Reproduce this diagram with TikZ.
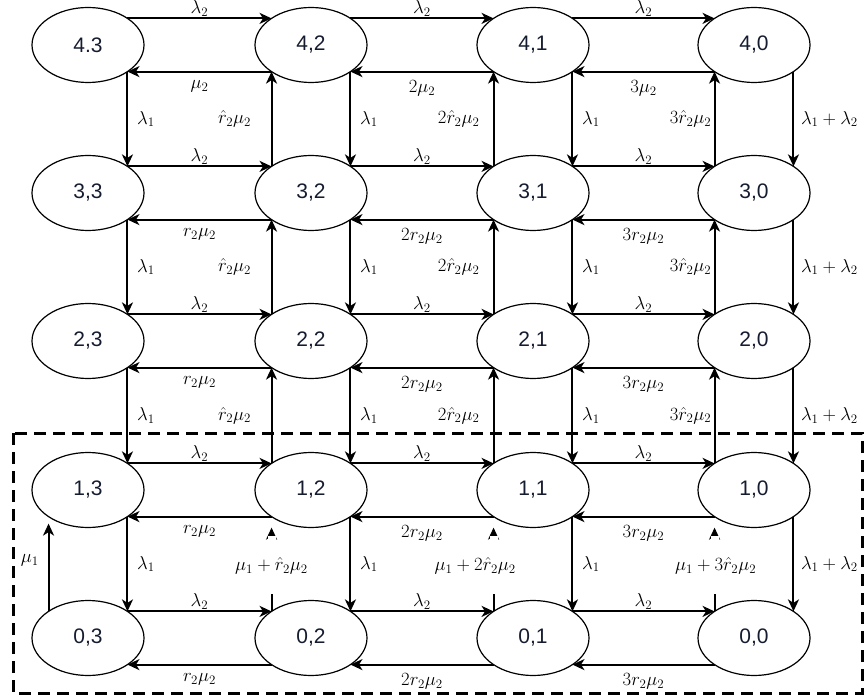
\documentclass[tikz,border=0pt]{standalone}
\usepackage{fontspec}
\newfontfamily\nodefont{Liberation Sans}
\usetikzlibrary{arrows.meta,shapes.geometric,calc}
\definecolor{nodetext}{RGB}{22,28,48}
\begin{document}
\begin{tikzpicture}[x=1pt,y=-1pt,
  st/.style={ellipse,draw,line width=1.2pt,minimum width=112pt,minimum height=75pt,
             inner sep=0pt,outer sep=0pt,font=\nodefont\fontsize{21}{24}\selectfont,text=nodetext},
  arr/.style={line width=2pt,-{Stealth[length=12pt,width=11pt,inset=3.5pt]}},
  lab/.style={font=\fontsize{17.28}{21}\selectfont,inner sep=1pt,scale=1.08,transform shape},
  labb/.style={font=\fontsize{17.28}{21}\selectfont,inner sep=2pt,yshift=-6pt,scale=1.08,transform shape},
  gap/.style={fill=white,minimum width=8pt,minimum height=58pt,inner sep=0pt}]
\useasboundingbox (0,0) rectangle (864,700);

% states
\node[st] (n43) at (88,45)  {4.3};
\node[st] (n42) at (311,45) {4,2};
\node[st] (n41) at (533,45) {4,1};
\node[st] (n40) at (754,45) {4,0};
\node[st] (n33) at (88,193)  {3,3};
\node[st] (n32) at (311,193) {3,2};
\node[st] (n31) at (533,193) {3,1};
\node[st] (n30) at (754,193) {3,0};
\node[st] (n23) at (88,341)  {2,3};
\node[st] (n22) at (311,341) {2,2};
\node[st] (n21) at (533,341) {2,1};
\node[st] (n20) at (754,341) {2,0};
\node[st] (n13) at (88,490)  {1,3};
\node[st] (n12) at (311,490) {1,2};
\node[st] (n11) at (533,490) {1,1};
\node[st] (n10) at (754,490) {1,0};
\node[st] (n03) at (88,638)  {0,3};
\node[st] (n02) at (311,638) {0,2};
\node[st] (n01) at (533,638) {0,1};
\node[st] (n00) at (754,638) {0,0};

% horizontal arrows to the right
\foreach \r in {4,3,2,1,0}{
  \foreach \a/\b in {3/2,2/1,1/0}{
    \draw[arr] (n\r\a.34) -- (n\r\b.146) node[midway,above,lab]{$\lambda_2$};
  }
}
% top row leftward
\foreach \a/\b/\k in {3/2/{},2/1/2,1/0/3}{
  \draw[arr] (n4\b.214) -- (n4\a.-34) node[midway,below,labb]{$\k\mu_2$};
}
% other rows leftward
\foreach \r in {3,2,1,0}{
  \foreach \a/\b/\k in {3/2/{},2/1/2,1/0/3}{
    \draw[arr] (n\r\b.214) -- (n\r\a.-34) node[midway,below,labb]{$\k r_2\mu_2$};
  }
}
% downward arrows
\foreach \r/\s in {4/3,3/2,2/1,1/0}{
  \foreach \a in {3,2,1}{
    \draw[arr] (n\r\a.-34) -- (n\s\a.34) node[midway,right,lab,xshift=7pt]{$\lambda_1$};
  }
  \draw[arr] (n\r0.-34) -- (n\s0.34) node[midway,right,lab,xshift=5pt]{$\lambda_1+\lambda_2$};
}
% upward arrows
\foreach \r/\s in {4/3,3/2,2/1}{
  \foreach \b/\k/\sh in {2/{}/-17,1/2/-11,0/3/-1}{
    \draw[arr] (n\s\b.146) -- (n\r\b.214) node[midway,left,lab,xshift=\sh pt]{$\k\hat{r}_2\mu_2$};
  }
}
% bottom upward arrows (label over a gap in the line)
\foreach \b/\k/\sh in {2/{}/0,1/2/-17,0/3/1}{
  \draw[arr,shorten >=11pt] (n0\b.146) -- (n1\b.214)
    node[midway,gap,yshift=-1pt]{}
    node[midway,lab,xshift=\sh pt,yshift=-2pt]{$\mu_1+\k\hat{r}_2\mu_2$};
}
\draw[arr,shorten >=7pt] (n03.146) -- (n13.214) node[midway,left,lab,xshift=-7pt,yshift=3pt]{$\mu_1$};

% dashed frame
\draw[line width=3pt,dash pattern=on 12pt off 7pt] (13,433) rectangle (862,693);
\end{tikzpicture}
\end{document}
